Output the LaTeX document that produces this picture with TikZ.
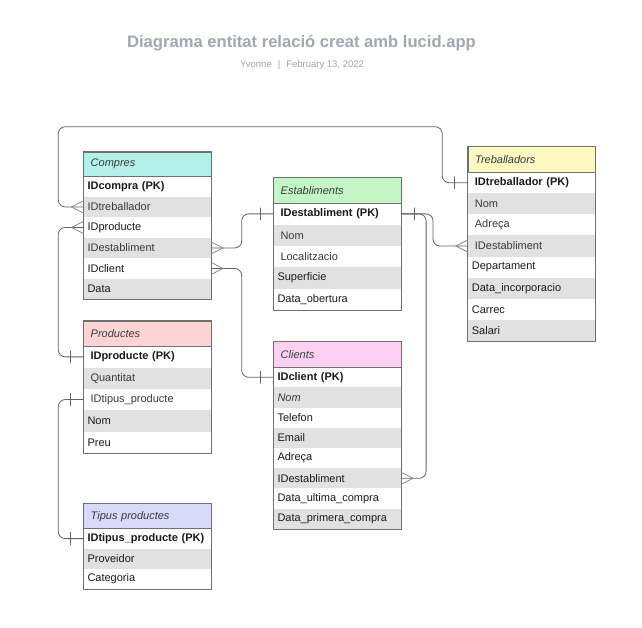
\documentclass[tikz,border=0pt]{standalone}
\usepackage{fontspec}
\setmainfont{Liberation Sans}

\definecolor{compresfill}{HTML}{B3F1E8}
\definecolor{estabfill}{HTML}{C3F5C5}
\definecolor{trebfill}{HTML}{FCF8C2}
\definecolor{prodfill}{HTML}{FDD4D4}
\definecolor{clifill}{HTML}{FCD0F0}
\definecolor{tipfill}{HTML}{D8D9FB}
\definecolor{row0}{HTML}{E1E1E1}
\definecolor{row1}{HTML}{FFFFFF}
\definecolor{framegray}{HTML}{707070}
\definecolor{linkgray}{HTML}{626262}
\definecolor{markgray}{HTML}{8A8A8A}
\definecolor{titlegray}{HTML}{A3A7B0}
\definecolor{subgray}{HTML}{A0A4AC}
\definecolor{rowtext}{HTML}{1A1A1A}
\definecolor{softtext}{HTML}{3A3A3A}
\definecolor{headtext}{HTML}{3A3A3A}

\begin{document}
\begin{tikzpicture}[x=1pt, y=-1pt, line cap=round, line join=round,
	enthead/.style={draw=framegray, line width=0.8pt, anchor=north west, minimum width=127.4pt,
		inner xsep=7pt, inner ysep=0pt, text width=113.4pt, align=left, text=headtext,
		font=\fontsize{11}{13}\selectfont\itshape},
	entrow/.style={anchor=north west, minimum width=127.4pt, inner xsep=4pt, inner ysep=0pt,
		text width=119.4pt, align=left, text=rowtext, font=\fontsize{11}{13}\selectfont},
	entframe/.style={draw=framegray, line width=0.8pt},
	link/.style={draw=linkgray, line width=0.8pt, rounded corners=7pt},
	crowfoot/.pic={\draw[draw=markgray, line width=0.8pt] (-12pt,0pt) -- (0pt,6pt) (-12pt,0pt) -- (0pt,-6pt);},
	onebar/.pic={\draw[draw=linkgray, line width=0.8pt] (-13pt,-6pt) -- (-13pt,6pt);}]
	% Canvas
	\useasboundingbox[fill=white] (0,0) rectangle (642,628);
	\def\pad{\hspace*{3pt}}
	\def\soft{\color{softtext}}
	
	% Title
	\node[font=\fontsize{16.6}{20}\selectfont\bfseries, text=titlegray] (title) at (301.5,43.5) {Diagrama entitat relació creat amb lucid.app};
	\node[font=\fontsize{9.5}{11}\selectfont, text=subgray] (subtitle) at (302,65) {Yvonne\hspace{6pt}|\hspace{6pt}February 13, 2022};
	
	% Compres
	\foreach \lbl [count=\k] in {\textbf{IDcompra (PK)}, {\soft IDtreballador}, IDproducte, {\soft IDestabliment}, IDclient, Data}{
		\pgfmathtruncatemacro\c{mod(\k,2)}
		\node[entrow, fill=row\c, minimum height=20.5pt] (compres-\k) at (83.3,{176+(\k-1)*20.5}) {\lbl};
	}
	\node[enthead, fill=compresfill, minimum height=24.3pt] (compres-h) at (83.3,151.7) {Compres};
	\draw[entframe] (compres-h.north west) rectangle (compres-6.south east);
	
	% Establiments
	\foreach \lbl [count=\k] in {\pad\textbf{IDestabliment (PK)}, {\pad\soft Nom}, {\pad\soft Localitzacio}, Superficie, Data\_obertura}{
		\pgfmathtruncatemacro\c{mod(\k,2)}
		\node[entrow, fill=row\c, minimum height=21.4pt] (estab-\k) at (273.3,{203+(\k-1)*21.4}) {\lbl};
	}
	\node[enthead, fill=estabfill, minimum height=25.7pt] (estab-h) at (273.3,177.3) {Establiments};
	\draw[entframe] (estab-h.north west) rectangle (estab-5.south east);
	
	% Treballadors
	\foreach \lbl [count=\k] in {\pad\textbf{IDtreballador (PK)}, {\pad\soft Nom}, {\pad\soft Adreça}, {\pad\soft IDestabliment}, Departament, Data\_incorporacio, Carrec, Salari}{
		\pgfmathtruncatemacro\c{mod(\k,2)}
		\node[entrow, fill=row\c, minimum height=21.1pt] (treb-\k) at (467.7,{172+(\k-1)*21.1}) {\lbl};
	}
	\node[enthead, fill=trebfill, minimum height=26pt] (treb-h) at (467.7,146) {Treballadors};
	\draw[entframe] (treb-h.north west) rectangle (treb-8.south east);
	
	% Productes
	\foreach \lbl [count=\k] in {\pad\textbf{IDproducte (PK)}, {\pad\soft Quantitat}, {\pad\soft IDtipus\_producte}, Nom, Preu}{
		\pgfmathtruncatemacro\c{mod(\k,2)}
		\node[entrow, fill=row\c, minimum height=21.35pt] (prod-\k) at (83.3,{346+(\k-1)*21.35}) {\lbl};
	}
	\node[enthead, fill=prodfill, minimum height=25.3pt] (prod-h) at (83.3,320.7) {Productes};
	\draw[entframe] (prod-h.north west) rectangle (prod-5.south east);
	
	% Clients
	\foreach \lbl [count=\k] in {\textbf{IDclient (PK)}, {\soft\itshape Nom}, Telefon, Email, Adreça, IDestabliment, Data\_ultima\_compra, Data\_primera\_compra}{
		\pgfmathtruncatemacro\c{mod(\k,2)}
		\node[entrow, fill=row\c, minimum height=20.2pt] (cli-\k) at (273.3,{367+(\k-1)*20.2}) {\lbl};
	}
	\node[enthead, fill=clifill, minimum height=26pt] (cli-h) at (273.3,341) {Clients};
	\draw[entframe] (cli-h.north west) rectangle (cli-8.south east);
	
	% Tipus productes
	\foreach \lbl [count=\k] in {\textbf{IDtipus\_producte (PK)}, Proveidor, Categoria}{
		\pgfmathtruncatemacro\c{mod(\k,2)}
		\node[entrow, fill=row\c, minimum height=20.25pt] (tip-\k) at (83.3,{528.3+(\k-1)*20.25}) {\lbl};
	}
	\node[enthead, fill=tipfill, minimum height=25pt] (tip-h) at (83.3,503.3) {Tipus productes};
	\draw[entframe] (tip-h.north west) rectangle (tip-3.south east);
	
	% Relations
	\draw[link] (compres-2.west) -| (58.3,126.7) -| ([xshift=-25.5pt]treb-1.west) -- (treb-1.west);
	\draw[link] (compres-3.west) -| ([xshift=-25pt]prod-1.west) -- (prod-1.west);
	\draw[link] (compres-4.east) -| ([xshift=-31.6pt]estab-1.west) -- (estab-1.west);
	\draw[link] (compres-5.east) -| ([xshift=-31.6pt]cli-1.west) -- (cli-1.west);
	\draw[link] (estab-1.east) -| ([xshift=-34.7pt]treb-4.west) -- (treb-4.west);
	\draw[link] (estab-1.east) -| ([xshift=25pt]cli-6.east) -- (cli-6.east);
	\draw[link] (prod-3.west) -| ([xshift=-25pt]tip-1.west) -- (tip-1.west);
	
	% Cardinality marks
	\pic at (compres-2.west) {crowfoot};
	\pic at (compres-3.west) {crowfoot};
	\pic[xscale=-1] at (compres-4.east) {crowfoot};
	\pic[xscale=-1] at (compres-5.east) {crowfoot};
	\pic at (treb-4.west) {crowfoot};
	\pic[xscale=-1] at (cli-6.east) {crowfoot};
	\pic at (treb-1.west) {onebar};
	\pic at (prod-1.west) {onebar};
	\pic at (estab-1.west) {onebar};
	\pic at (cli-1.west) {onebar};
	\pic[xscale=-1] at (estab-1.east) {onebar};
	\pic at (prod-3.west) {onebar};
	\pic at (tip-1.west) {onebar};
\end{tikzpicture}
\end{document}
